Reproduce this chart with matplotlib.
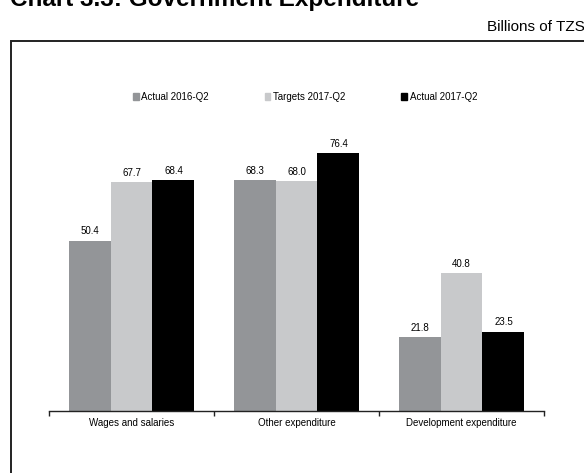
import matplotlib
matplotlib.use("Agg")
import matplotlib.pyplot as plt
from matplotlib.patches import Rectangle, Patch
import numpy as np

categories = ["Wages and salaries", "Other expenditure", "Development expenditure"]
series_names = ["Actual 2016-Q2", "Targets 2017-Q2", "Actual 2017-Q2"]
actual_2016 = [50.4, 68.3, 21.8]
targets_2017 = [67.7, 68.0, 40.8]
actual_2017 = [68.4, 76.4, 23.5]
colors = ["#939598", "#c8c9cb", "#000000"]

plt.rcParams["font.family"] = ["Liberation Sans", "DejaVu Sans"]

W, H = 584, 473
fig = plt.figure(figsize=(W / 100, H / 100), dpi=100)
fig.patch.set_facecolor("white")

# outer frame (runs off the right and bottom edges)
fig.patches.append(Rectangle((11 / W, -0.1), 1.2, 1.1 - 41 / H, transform=fig.transFigure,
                             fill=False, lw=1.4, ec="#222222"))

# title is clipped by the top edge in the original
fig.text(10 / W, 1 - 6 / H, "Chart 3.3: Government Expenditure", fontsize=17.5,
         fontweight="bold", va="baseline", ha="left")
fig.text(585 / W, 1 - 31 / H, "Billions of TZS", fontsize=11, ha="right", va="baseline")

ax = fig.add_axes([49 / W, 1 - 411 / H, (544 - 49) / W, (411 - 107) / H])
x = np.arange(len(categories))
width = 0.2545
all_series = [actual_2016, targets_2017, actual_2017]
for i, (vals, name, c) in enumerate(zip(all_series, series_names, colors)):
    bars = ax.bar(x + (i - 1) * width, vals, width, color=c, label=name)
    for b, v in zip(bars, vals):
        ax.text(b.get_x() + b.get_width() / 2, v + 1.3, f"{v:.1f}", ha="center",
                va="bottom", fontsize=7)

ax.set_xlim(-0.5, 2.5)
ax.set_ylim(0, 90)
for s in ["top", "right", "left"]:
    ax.spines[s].set_visible(False)
ax.spines["bottom"].set_color("#222222")
ax.spines["bottom"].set_linewidth(1.0)
ax.set_yticks([])
ax.set_xticks(x)
ax.set_xticklabels(categories, fontsize=7)
ax.tick_params(axis="x", which="major", length=0, pad=5)
ax.set_xticks([-0.5, 0.5, 1.5, 2.5], minor=True)
ax.tick_params(axis="x", which="minor", length=3.5, width=1, color="#222222")

handles = [Patch(color=c) for c in colors]
fig.legend(handles, series_names, loc="center", bbox_to_anchor=(305 / W, 1 - 97 / H),
           ncol=3, frameon=False, fontsize=7, handlelength=0.6, handleheight=0.6,
           handletextpad=0.3, columnspacing=5.7)

fig.savefig("out.png", dpi=100)
